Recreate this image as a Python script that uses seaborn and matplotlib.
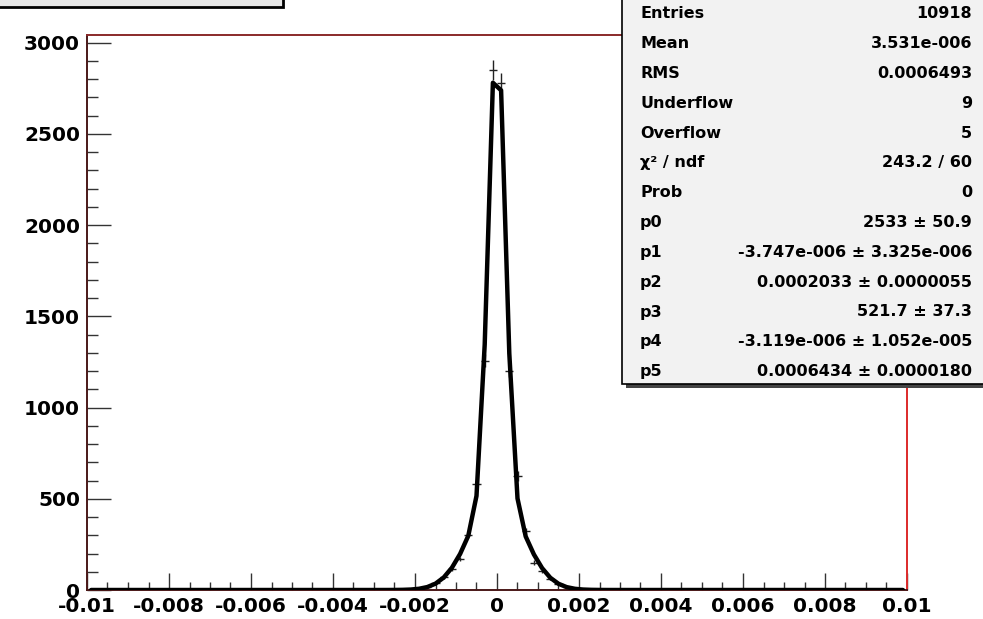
import numpy as np
import pandas as pd
import seaborn as sb
import matplotlib.pyplot as plt
from matplotlib.patches import Rectangle
from matplotlib.ticker import MultipleLocator

sb.set_theme(style='white')
plt.rcParams['font.family'] = ['DejaVu Sans']
plt.rcParams['text.color'] = 'black'
plt.rcParams['xtick.labelcolor'] = 'black'
plt.rcParams['ytick.labelcolor'] = 'black'

# histogram: 100 bins between -0.01 and 0.01
bin_lo, bin_hi, n_bins = -0.01, 0.01, 100
counts = [0, 0, 0, 0, 0, 0, 0, 0, 0, 0,
          0, 0, 0, 0, 0, 0, 0, 1, 0, 0,
          1, 0, 0, 1, 0, 1, 0, 0, 1, 0,
          1, 0, 1, 1, 0, 1, 1, 1, 2, 4,
          8, 18, 38, 70, 115, 170, 301, 581, 1257, 2850,
          2780, 1200, 625, 323, 150, 105, 62, 33, 15, 7,
          3, 2, 2, 1, 1, 0, 1, 1, 0, 1,
          0, 1, 0, 0, 1, 0, 0, 1, 0, 0,
          0, 0, 1, 0, 0, 0, 0, 0, 0, 0,
          0, 0, 0, 0, 0, 0, 0, 0, 0, 0]

# fit parameters (double gaussian) from the stats box
p_vals = [2533, -3.747e-06, 0.0002033, 521.7, -3.119e-06, 0.0006434]

stat_labels = ['Entries', 'Mean', 'RMS', 'Underflow', 'Overflow', 'χ² / ndf', 'Prob',
               'p0', 'p1', 'p2', 'p3', 'p4', 'p5']
stat_values = ['10918', '3.531e-006', '0.0006493', '9', '5', '243.2 / 60', '0',
               '2533 ± 50.9', '-3.747e-006 ± 3.325e-006', '0.0002033 ± 0.0000055',
               '521.7 ± 37.3', '-3.119e-006 ± 1.052e-005', '0.0006434 ± 0.0000180']

width = (bin_hi - bin_lo) / n_bins
centers = bin_lo + width * (np.arange(n_bins) + 0.5)
hist = pd.DataFrame({'x': centers, 'n': counts})
hist['err'] = np.sqrt(hist['n'])

p0, p1, p2, p3, p4, p5 = p_vals
hist['fit'] = (p0 * np.exp(-0.5 * ((hist['x'] - p1) / p2) ** 2)
               + p3 * np.exp(-0.5 * ((hist['x'] - p4) / p5) ** 2))

W, H = 983, 619
fig = plt.figure(figsize=(W / 100, H / 100), dpi=100)
ax = fig.add_axes([87 / W, 1 - 590 / H, 820 / W, 555 / H])

ax.errorbar(hist['x'], hist['n'], yerr=hist['err'], xerr=width / 2,
            fmt='none', ecolor='#222222', elinewidth=1.0, capsize=0, zorder=2)
sb.lineplot(data=hist, x='x', y='fit', color='black', linewidth=3.2, ax=ax, zorder=3)

ax.set_xlim(bin_lo, bin_hi)
ax.set_ylim(0, 3042)
ax.set_xlabel('')
ax.set_ylabel('')
ax.xaxis.set_minor_locator(MultipleLocator(0.0005))
ax.yaxis.set_major_locator(MultipleLocator(500))
ax.yaxis.set_minor_locator(MultipleLocator(100))
ax.set_xticks(np.arange(-0.01, 0.0101, 0.002))
ax.set_xticklabels(['-0.01', '-0.008', '-0.006', '-0.004', '-0.002', '0',
                    '0.002', '0.004', '0.006', '0.008', '0.01'])
ax.tick_params(which='both', direction='in', color='#333333', labelcolor='black',
               bottom=True, left=True, top=False, right=False, labelsize=14.5)
ax.tick_params(axis='x', which='major', length=12, width=1, pad=5)
ax.tick_params(axis='x', which='minor', length=6, width=1)
ax.tick_params(axis='y', which='major', length=17, width=1, pad=5)
ax.tick_params(axis='y', which='minor', length=8, width=1)
for lab in ax.get_xticklabels() + ax.get_yticklabels():
    lab.set_fontweight('bold')

for side, col in [('left', '#4a1818'), ('bottom', '#4a1818'),
                  ('top', '#8a2a2a'), ('right', '#dd2a2a')]:
    ax.spines[side].set_color(col)
    ax.spines[side].set_linewidth(1.4)

# overlay in pixel coordinates for the title and stats boxes
ov = fig.add_axes([0, 0, 1, 1], zorder=5)
ov.set_xlim(0, W)
ov.set_ylim(H, 0)
ov.axis('off')
ov.patch.set_alpha(0)

ov.add_patch(Rectangle((-5, -20), 288, 27, facecolor='#e6e6e6', edgecolor='black', lw=2))

ov.add_patch(Rectangle((626, -10), 370, 398, facecolor='#444444', edgecolor='none'))
ov.add_patch(Rectangle((622, -14), 370, 398, facecolor='#f2f2f2', edgecolor='black', lw=1.2))
for k, (lab, val) in enumerate(zip(stat_labels, stat_values)):
    y = 14 + 29.8 * k
    ov.text(640, y, lab, fontsize=11.5, fontweight='bold', color='black', va='center', ha='left')
    ov.text(972, y, val, fontsize=11.5, fontweight='bold', color='black', va='center', ha='right')

fig.savefig('out.png', dpi=100)
